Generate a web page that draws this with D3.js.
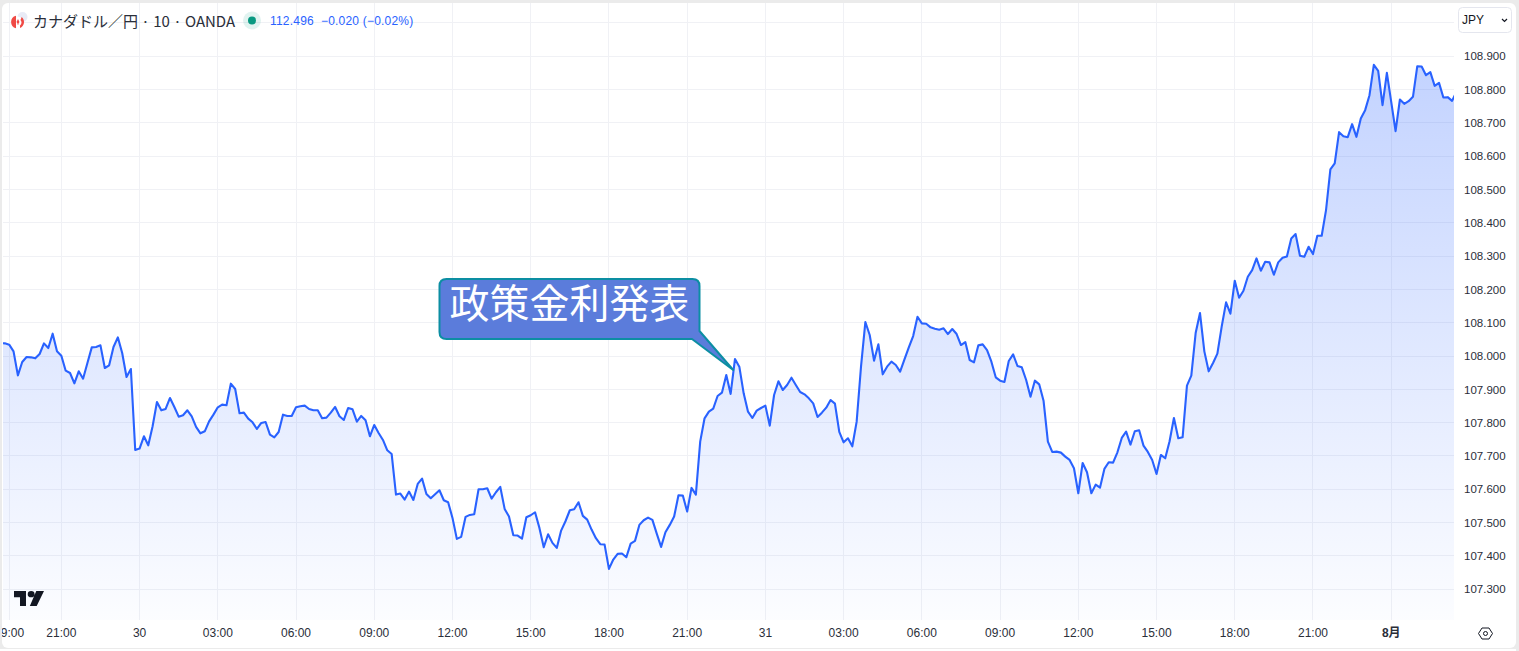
<!DOCTYPE html>
<html lang="ja">
<head>
<meta charset="utf-8">
<script src="https://cdnjs.cloudflare.com/ajax/libs/d3/7.8.5/d3.min.js"></script>
<style>
html,body{margin:0;padding:0;background:#ebebeb;overflow:hidden}
svg{display:block}
text{font-family:"Liberation Sans","Noto Sans CJK JP",sans-serif}
</style>
</head>
<body>
<div id="chart"></div>
<script>
// 10-minute closes, one value per bar, starting 29 Jul 18:40
const startTime = Date.UTC(2025, 6, 29, 18, 40);
const barMinutes = 10;
const closes = [
108.039,108.038,108.034,108.014,107.942,107.982,107.997,107.996,107.993,108.006,
108.038,108.024,108.067,108.014,108.001,107.956,107.949,107.918,107.954,107.932,
107.979,108.026,108.027,108.032,107.964,107.972,108.027,108.056,108.009,107.937,
107.961,107.718,107.722,107.759,107.732,107.789,107.862,107.837,107.841,107.874,
107.847,107.818,107.822,107.837,107.819,107.787,107.768,107.774,107.804,107.824,
107.846,107.854,107.852,107.917,107.901,107.828,107.830,107.812,107.801,107.781,
107.799,107.802,107.764,107.756,107.772,107.824,107.820,107.820,107.846,107.849,
107.851,107.841,107.837,107.837,107.813,107.815,107.830,107.847,107.819,107.808,
107.844,107.840,107.803,107.820,107.807,107.759,107.793,107.769,107.748,107.717,
107.706,107.584,107.587,107.569,107.593,107.568,107.616,107.632,107.586,107.573,
107.585,107.597,107.567,107.561,107.514,107.451,107.457,107.517,107.523,107.525,
107.600,107.600,107.603,107.572,107.591,107.607,107.541,107.518,107.462,107.461,
107.452,107.516,107.522,107.531,107.484,107.426,107.465,107.439,107.424,107.476,
107.504,107.537,107.540,107.561,107.520,107.509,107.479,107.453,107.435,107.434,
107.361,107.389,107.406,107.407,107.396,107.437,107.445,107.493,107.507,107.515,
107.508,107.467,107.427,107.471,107.493,107.518,107.582,107.581,107.533,107.604,
107.584,107.743,107.813,107.833,107.842,107.880,107.890,107.943,107.886,107.991,
107.968,107.888,107.833,107.814,107.836,107.844,107.851,107.791,107.883,107.924,
107.898,107.913,107.935,107.913,107.892,107.885,107.873,107.858,107.817,107.830,
107.845,107.868,107.857,107.772,107.741,107.753,107.729,107.803,107.968,108.102,
108.063,107.986,108.035,107.945,107.968,107.983,107.973,107.953,107.990,108.026,
108.060,108.118,108.098,108.097,108.086,108.082,108.079,108.083,108.066,108.081,
108.066,108.033,108.042,107.988,107.981,108.032,108.035,108.018,107.983,107.936,
107.926,107.922,107.985,108.005,107.970,107.966,107.928,107.878,107.926,107.915,
107.866,107.743,107.712,107.713,107.710,107.698,107.688,107.663,107.588,107.679,
107.651,107.588,107.614,107.605,107.661,107.681,107.680,107.711,107.754,107.773,
107.734,107.774,107.777,107.731,107.712,107.688,107.646,107.703,107.693,107.744,
107.814,107.753,107.756,107.911,107.941,108.069,108.129,108.014,107.954,107.979,
108.007,108.089,108.161,108.127,108.226,108.175,108.196,108.238,108.258,108.293,
108.256,108.283,108.281,108.244,108.281,108.295,108.299,108.353,108.366,108.301,
108.298,108.328,108.306,108.361,108.361,108.438,108.560,108.578,108.672,108.660,
108.657,108.696,108.658,108.713,108.738,108.783,108.874,108.856,108.753,108.850,
108.763,108.675,108.770,108.757,108.765,108.778,108.870,108.869,108.843,108.852,
108.811,108.820,108.776,108.777,108.766,108.793];
const priceTicks = [108.9,108.8,108.7,108.6,108.5,108.4,108.3,108.2,108.1,108.0,107.9,107.8,107.7,107.6,107.5,107.4,107.3];
const gridPrices = [109.0].concat(priceTicks);
const timeLabels = ["19:00","21:00","30","03:00","06:00","09:00","12:00","15:00","18:00","21:00","31","03:00","06:00","09:00","12:00","15:00","18:00","21:00","8月"];
const timeTickBars = [2,14,32,50,68,86,104,122,140,158,176,194,212,230,248,266,284,302,320];
const annotationText = "政策金利発表";
const annotationBar = 168.6;
const annotationPrice = 107.958;
const titleText = "カナダドル／円 · 10 · OANDA";
const legendValues = ["112.496","−0.020","(−0.02%)"];

const W = 1519, H = 651;
const pane = {l:3, r:1454, t:3, b:620};
const timeOf = i => new Date(startTime + i*barMinutes*60000);
const x = d3.scaleUtc().domain([timeOf(0), timeOf(335)]).range([0.5, 0.5+335*4.346]);
const y = d3.scaleLinear().domain([108.9, 107.3]).range([56.2, 589.2]);

const svg = d3.select("#chart").append("svg").attr("width",W).attr("height",H);
const defs = svg.append("defs");
defs.append("clipPath").attr("id","paneClip").append("rect")
  .attr("x",pane.l).attr("y",pane.t).attr("width",pane.r-pane.l).attr("height",pane.b-pane.t);
const grad = defs.append("linearGradient").attr("id","areaFill")
  .attr("gradientUnits","userSpaceOnUse").attr("x1",0).attr("x2",0).attr("y1",64).attr("y2",pane.b);
grad.append("stop").attr("offset",0).attr("stop-color","#2962ff").attr("stop-opacity",0.28);
grad.append("stop").attr("offset",1).attr("stop-color","#2962ff").attr("stop-opacity",0.015);

// card
svg.append("rect").attr("x",2).attr("y",3).attr("width",1514).attr("height",645).attr("rx",6).attr("fill","#fff");

const plot = svg.append("g");
// grid
plot.append("g").selectAll("line").data(gridPrices).join("line")
  .attr("x1",pane.l).attr("x2",pane.r).attr("y1",d=>Math.floor(y(d))+.5).attr("y2",d=>Math.floor(y(d))+.5)
  .attr("stroke","#f0f1f5");
plot.append("g").selectAll("line").data(timeTickBars).join("line")
  .attr("x1",d=>Math.floor(x(timeOf(d)))+.5).attr("x2",d=>Math.floor(x(timeOf(d)))+.5)
  .attr("y1",pane.t).attr("y2",pane.b).attr("stroke","#f0f1f5");

const series = plot.append("g").attr("clip-path","url(#paneClip)");
series.append("path").datum(closes)
  .attr("fill","url(#areaFill)")
  .attr("d",d3.area().x((d,i)=>x(timeOf(i))).y0(pane.b).y1(d=>y(d)));
series.append("path").datum(closes)
  .attr("fill","none").attr("stroke","#2962ff").attr("stroke-width",2.1).attr("stroke-linejoin","round")
  .attr("d",d3.line().x((d,i)=>x(timeOf(i))).y(d=>y(d)));

// price axis
const yAxis = d3.axisRight(y).tickValues(priceTicks).tickSize(0).tickPadding(0).tickFormat(d3.format(".3f"));
const yG = svg.append("g").attr("transform","translate(1464,0)").call(yAxis);
yG.select(".domain").remove();
yG.selectAll("text").attr("font-size",11.5).attr("fill","#2a2e39").style("font-family",'"Liberation Sans",sans-serif');

// time axis
const xAxis = d3.axisBottom(x).tickValues(timeTickBars.map(timeOf)).tickSize(0).tickPadding(0)
  .tickFormat((d,i)=>timeLabels[i]);
const xG = svg.append("g").attr("transform","translate(-0.5,628.5)").call(xAxis);
xG.select(".domain").remove();
xG.selectAll("text").attr("font-size",12).attr("fill","#2a2e39").attr("dy","0.71em")
  .style("font-family",'"Liberation Sans","Noto Sans CJK JP",sans-serif')
  .attr("font-weight",(d,i)=>timeLabels[i]==="8月"?700:400);
svg.append("rect").attr("x",0).attr("y",620).attr("width",2).attr("height",31).attr("fill","#ebebeb");

// bottom edge
svg.append("rect").attr("x",0).attr("y",648).attr("width",W).attr("height",3).attr("fill","#fff");
svg.append("rect").attr("x",0).attr("y",648).attr("width",W).attr("height",1).attr("fill","#ebebeb");
svg.append("rect").attr("x",1516).attr("y",0).attr("width",3).attr("height",H).attr("fill","#ebebeb");

// callout
const ax = x(timeOf(annotationBar)), ay = y(annotationPrice);
const bx0=439.5, bx1=699.5, by0=279, by1=339, r=7;
const callout = d3.path();
callout.moveTo(bx0+r,by0); callout.lineTo(bx1-r,by0);
callout.quadraticCurveTo(bx1,by0,bx1,by0+r); callout.lineTo(bx1,331);
callout.lineTo(ax,ay); callout.lineTo(692,by1);
callout.lineTo(bx0+r,by1); callout.quadraticCurveTo(bx0,by1,bx0,by1-r);
callout.lineTo(bx0,by0+r); callout.quadraticCurveTo(bx0,by0,bx0+r,by0); callout.closePath();
svg.append("path").attr("d",callout.toString()).attr("fill","#5b7cdb").attr("stroke","#0c8ea3").attr("stroke-width",2).attr("stroke-linejoin","round");
svg.append("text").attr("x",569.5).attr("y",307).attr("text-anchor","middle").attr("dominant-baseline","middle")
  .attr("font-size",40).attr("fill","#fff").style("font-family",'"Noto Sans CJK JP",sans-serif').text(annotationText);

// legend
const flag = svg.append("g").attr("transform","translate(17.5,22)");
flag.append("circle").attr("cx",5).attr("cy",-5).attr("r",5).attr("fill","#e8ebf6");
flag.append("circle").attr("r",5.5).attr("fill","#fff");
flag.append("path").attr("d","M-1.5,-6.3 A6.5,6.5 0 0 0 -1.5,6.3 Z").attr("fill","#f04a45");
flag.append("path").attr("d","M4.2,-5 A6.5,6.5 0 0 1 2.5,6 L2.5,3.4 A4,4 0 0 0 3,-2 Z").attr("fill","#f04a45");
flag.append("path").attr("d","M0.5,-3 L2,0 L1,1.4 L0.9,2.8 L0.1,2.8 L0,1.4 L-1,0Z").attr("fill","#f04a45");
svg.append("text").attr("x",33).attr("y",26.5).attr("font-size",15).attr("fill","#2a2e39")
  .style("font-family",'"Noto Sans CJK JP",sans-serif').text(titleText);
svg.append("circle").attr("cx",252).attr("cy",20.5).attr("r",9).attr("fill","#089981").attr("fill-opacity",0.12);
svg.append("circle").attr("cx",252).attr("cy",20.5).attr("r",4).attr("fill","#089981");
svg.append("text").attr("x",270).attr("y",25).attr("font-size",12).attr("fill","#2962ff")
  .style("font-family",'"Liberation Sans",sans-serif').attr("letter-spacing","0.2").attr("xml:space","preserve")
  .text(legendValues[0]+"  "+legendValues[1]+" "+legendValues[2]);

// currency button
svg.append("rect").attr("x",1458.5).attr("y",7.5).attr("width",53).attr("height",25).attr("rx",4).attr("fill","#fff").attr("stroke","#e4e6ee");
svg.append("text").attr("x",1462).attr("y",24).attr("font-size",12).attr("fill","#131722").style("font-family",'"Liberation Sans",sans-serif').text("JPY");
svg.append("path").attr("d","M1502,19 l2.5,2.5 l2.5,-2.5").attr("fill","none").attr("stroke","#131722").attr("stroke-width",1.2);

// logo
svg.append("path").attr("transform","translate(14,591) scale(0.857,0.79)")
  .attr("d","M14 19H7V8H0V0h14v19Zm12.5 0h-8L26 0h9l-8.5 19ZM20 8a4 4 0 1 0 0-8 4 4 0 0 0 0 8Z").attr("fill","#131722");

// settings
const gear = svg.append("g").attr("transform","translate(1485.5,633.5)").attr("fill","none").attr("stroke","#131722").attr("stroke-width",1);
gear.append("path").attr("d","M-7,0 L-3.5,-5.5 L3.5,-5.5 L7,0 L3.5,5.5 L-3.5,5.5Z");
gear.append("circle").attr("r",2);
</script>
</body>
</html>
